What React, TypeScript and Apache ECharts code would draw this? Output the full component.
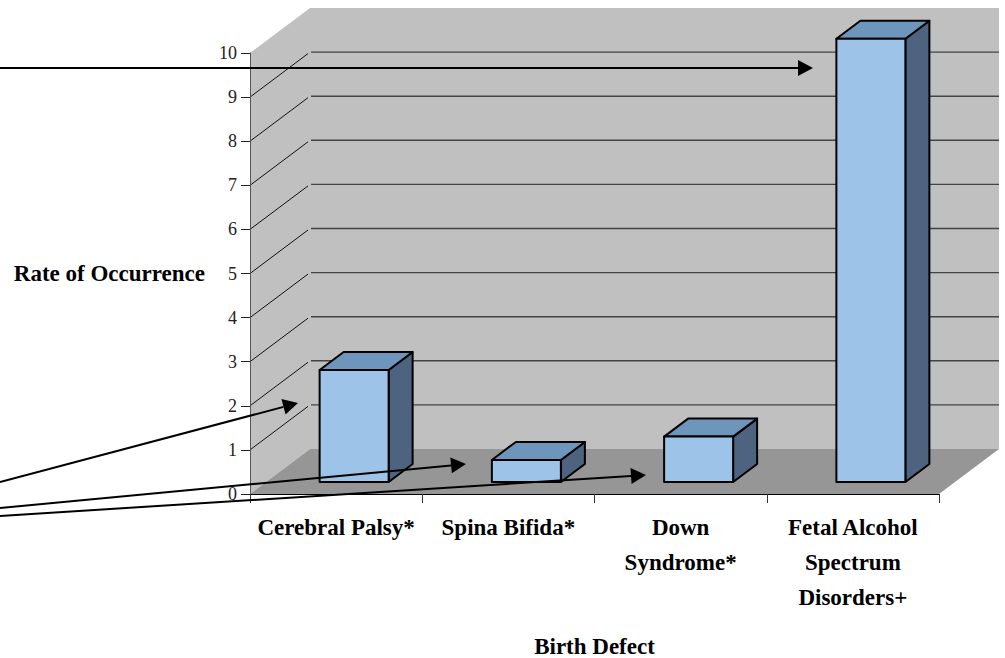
import React, { useEffect, useRef } from "react";
import * as echarts from "echarts";

const categories = ["Cerebral Palsy*", "Spina Bifida*", "Down\nSyndrome*", "Fetal Alcohol\nSpectrum\nDisorders+"];
const rates = [2.54, 0.5, 1.03, 10.05];
const wallTicks = [1, 2, 3, 4, 5, 6, 7, 8, 9];
const xTitle = "Birth Defect";
const yTitle = "Rate of Occurrence";

const FONT = "'Liberation Serif', serif";
const DEPTH_X = 60;
const DEPTH_Y = 45;
const arrows = [
  [0, 68, 813, 68],
  [0, 482, 298, 403],
  [0, 508, 466, 464],
  [0, 516, 646, 475],
];

function arrowGraphics() {
  const out: any[] = [];
  for (const [x1, y1, x2, y2] of arrows) {
    const a = Math.atan2(y2 - y1, x2 - x1);
    const L = 15;
    const H = 8;
    const bx = x2 - L * Math.cos(a);
    const by = y2 - L * Math.sin(a);
    const nx = -Math.sin(a) * H;
    const ny = Math.cos(a) * H;
    out.push({
      type: "line",
      z: 100,
      shape: { x1, y1, x2: bx, y2: by },
      style: { stroke: "#000", lineWidth: 2 },
      silent: true,
    });
    out.push({
      type: "polygon",
      z: 100,
      shape: { points: [[x2, y2], [bx + nx, by + ny], [bx - nx, by - ny]] },
      style: { fill: "#000" },
      silent: true,
    });
  }
  return out;
}

export default function App() {
  const ref = useRef<HTMLDivElement>(null);
  useEffect(() => {
    document.body.style.margin = "0";
    const chart = echarts.init(ref.current!, undefined, { renderer: "svg" });
    chart.setOption({
      animation: false,
      backgroundColor: "#fff",
      grid: { left: 250, top: 53, width: 689, height: 441, outerBoundsMode: "none" },
      xAxis: {
        type: "category",
        data: categories,
        z: 5,
        name: xTitle,
        nameLocation: "middle",
        nameGap: 141,
        nameTextStyle: { fontFamily: FONT, fontWeight: "bold", fontSize: 23, color: "#000" },
        axisLine: { lineStyle: { color: "#000", width: 1 } },
        axisTick: { show: true, length: 9, alignWithLabel: false, lineStyle: { color: "#333" } },
        axisLabel: {
          interval: 0,
          margin: 16,
          fontFamily: FONT,
          fontWeight: "bold",
          fontSize: 23,
          color: "#000",
          lineHeight: 35,
          verticalAlign: "top",
        },
      },
      yAxis: {
        type: "value",
        min: 0,
        max: 10,
        interval: 1,
        z: 5,
        name: yTitle,
        nameLocation: "middle",
        nameRotate: 0,
        nameGap: 45,
        nameTextStyle: { fontFamily: FONT, fontWeight: "bold", fontSize: 23, color: "#000" },
        axisLine: { show: true, lineStyle: { color: "#555", width: 1 } },
        axisTick: { show: true, length: 9, lineStyle: { color: "#222" } },
        axisLabel: { margin: 13, fontFamily: FONT, fontSize: 18, color: "#222" },
        splitLine: { show: false },
      },
      series: [
        {
          type: "custom",
          z: 1,
          silent: true,
          data: [[0, 0]],
          encode: { x: 0, y: 1 },
          renderItem: (params: any) => {
            const { x, y, width, height } = params.coordSys;
            const b = y + height;
            const r = x + width;
            return {
              type: "group",
              children: [
                {
                  type: "polygon",
                  shape: { points: [[x, y], [x + DEPTH_X, y - DEPTH_Y], [r + DEPTH_X, y - DEPTH_Y], [r + DEPTH_X, b - DEPTH_Y], [x + DEPTH_X, b - DEPTH_Y], [x, b]] },
                  style: { fill: "#c0c0c0" },
                },
                {
                  type: "polygon",
                  shape: { points: [[x, b], [x + DEPTH_X, b - DEPTH_Y], [r + DEPTH_X, b - DEPTH_Y], [r, b]] },
                  style: { fill: "#969696" },
                },
              ],
            };
          },
        },
        {
          type: "custom",
          z: 2,
          silent: true,
          data: wallTicks.map((v) => [0, v]),
          encode: { x: 0, y: 1 },
          renderItem: (params: any, api: any) => {
            const { x, width } = params.coordSys;
            const yv = api.coord([0, api.value(1)])[1];
            return {
              type: "group",
              children: [
                {
                  type: "line",
                  shape: { x1: x, y1: yv, x2: x + DEPTH_X - 2, y2: yv - DEPTH_Y + 1.5 },
                  style: { stroke: "#111", lineWidth: 1 },
                },
                {
                  type: "line",
                  shape: { x1: x + DEPTH_X + 1, y1: yv - DEPTH_Y, x2: x + width + DEPTH_X, y2: yv - DEPTH_Y },
                  style: { stroke: "#444", lineWidth: 1.4 },
                },
              ],
            };
          },
        },
        {
          type: "custom",
          z: 3,
          silent: true,
          data: rates.map((v, i) => [i, v]),
          encode: { x: 0, y: 1 },
          renderItem: (_params: any, api: any) => {
            const i = api.value(0);
            const [cx, yTop] = api.coord([i, api.value(1)]);
            const y0 = api.coord([i, 0])[1];
            const w = 69;
            const l = cx + 18 - w / 2;
            const r = l + w;
            const t = yTop - 12;
            const b = y0 - 12;
            const dx = 24;
            const dy = 18;
            const line = { stroke: "#000", lineWidth: 2, lineJoin: "round" };
            return {
              type: "group",
              children: [
                { type: "polygon", shape: { points: [[r, t], [r + dx, t - dy], [r + dx, b - dy], [r, b]] }, style: { fill: "#4d6380", ...line } },
                { type: "polygon", shape: { points: [[l, t], [l + dx, t - dy], [r + dx, t - dy], [r, t]] }, style: { fill: "#6e96bc", ...line } },
                { type: "polygon", shape: { points: [[l, t], [r, t], [r, b], [l, b]] }, style: { fill: "#9dc3e8", ...line } },
              ],
            };
          },
        },
      ],
      graphic: { elements: arrowGraphics() },
    });
    return () => chart.dispose();
  }, []);
  return <div ref={ref} style={{ width: 1005, height: 658 }} />;
}
